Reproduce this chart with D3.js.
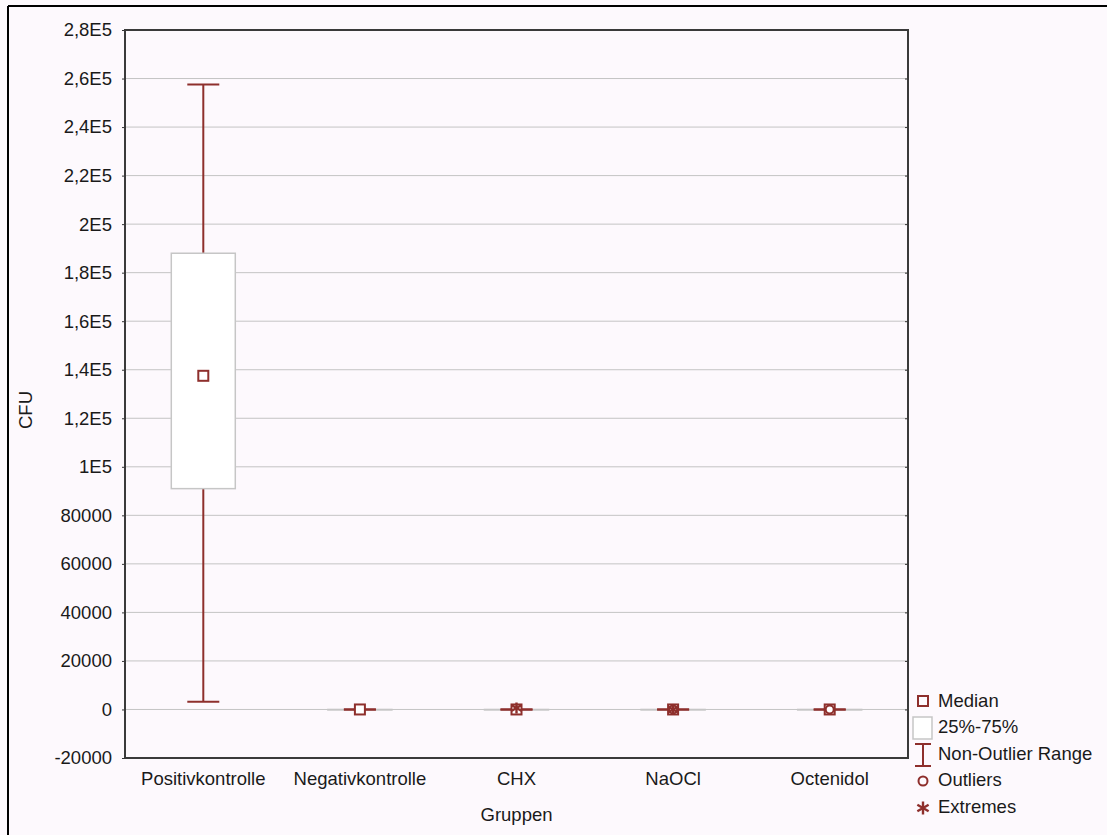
<!DOCTYPE html>
<html lang="de">
<head>
<meta charset="UTF-8">
<title>CFU Boxplot</title>
<style>
  body { margin: 0; background: #fdf9fd; }
  text { font-family: "Liberation Sans", Arial, sans-serif; fill: #1a1a1a; }
</style>
</head>
<body>
<svg id="svg" width="1107" height="835"></svg>
<script src="https://d3js.org/d3.v7.min.js"></script>
<script>
// data
const categories = ["Positivkontrolle", "Negativkontrolle", "CHX", "NaOCl", "Octenidol"]
const medians = [137500, 0, 0, 0, 0]
const q1 = [91000, 0, 0, 0, 0]
const q3 = [188000, 0, 0, 0, 0]
const whiskLow = [3200, 0, 0, 0, 0]
const whiskHigh = [257500, 0, 0, 0, 0]
const outliers = [[], [], [], [0], [0]]
const extremes = [[], [], [600], [0], []]
const yTicks = [-20000, 0, 20000, 40000, 60000, 80000, 100000, 120000, 140000, 160000, 180000, 200000, 220000, 240000, 260000, 280000]
const yTickLabels = ["-20000", "0", "20000", "40000", "60000", "80000", "1E5", "1,2E5", "1,4E5", "1,6E5", "1,8E5", "2E5", "2,2E5", "2,4E5", "2,6E5", "2,8E5"]
const legendItems = ["Median", "25%-75%", "Non-Outlier Range", "Outliers", "Extremes"]

const red = "#8e2f2c"
const fs = 18.5
const svg = d3.select("svg#svg")
const margin = { top: 30, left: 125, right: 199, bottom: 77 }
const width = +svg.attr("width")
const height = +svg.attr("height")
const innerWidth = width - margin.left - margin.right
const innerHeight = height - margin.top - margin.bottom

// outer frame (only top and left edge are inside the picture)
svg.append("line").attr("x1", 8).attr("x2", width).attr("y1", 6).attr("y2", 6)
  .attr("stroke", "#000").attr("stroke-width", 2)
svg.append("line").attr("x1", 8).attr("x2", 8).attr("y1", 6).attr("y2", height)
  .attr("stroke", "#000").attr("stroke-width", 2)

const xScale = d3.scaleBand().domain(categories).range([0, innerWidth])
const yScale = d3.scaleLinear().domain([-20000, 280000]).range([innerHeight, 0])

const g = svg.append("g").attr("transform", `translate(${margin.left},${margin.top})`)

// grid
g.append("g").selectAll("line").data(yTicks.slice(1, -1)).join("line")
  .attr("x1", 0).attr("x2", innerWidth)
  .attr("y1", d => yScale(d)).attr("y2", d => yScale(d))
  .attr("stroke", "#c4c4c4").attr("stroke-width", 1)

// axes
const yAxis = d3.axisLeft(yScale).tickValues(yTicks).tickSize(3).tickPadding(10)
  .tickFormat((d, i) => yTickLabels[i])
const yg = g.append("g").call(yAxis)
yg.select(".domain").remove()
yg.selectAll("text").attr("font-size", fs)
yg.selectAll("line").attr("stroke", "#333")
const yRight = g.append("g").attr("transform", `translate(${innerWidth},0)`)
  .call(d3.axisLeft(yScale).tickValues(yTicks).tickSize(3).tickFormat(""))
yRight.select(".domain").remove()
yRight.selectAll("line").attr("stroke", "#333")

const xAxis = d3.axisBottom(xScale).tickSize(0).tickPadding(14)
const xg = g.append("g").attr("transform", `translate(0,${innerHeight})`).call(xAxis)
xg.select(".domain").remove()
xg.selectAll("text").attr("font-size", fs)
svg.selectAll("g").attr("font-family", null)

// boxes
const bw = 64, cw = 32, ms = 10
const cx = i => xScale(categories[i]) + xScale.bandwidth() / 2
const boxes = g.append("g").selectAll("g").data(categories).join("g")
boxes.append("line")
  .attr("x1", (d, i) => cx(i)).attr("x2", (d, i) => cx(i))
  .attr("y1", (d, i) => yScale(whiskHigh[i])).attr("y2", (d, i) => yScale(whiskLow[i]))
  .attr("stroke", red).attr("stroke-width", 2)
boxes.append("rect")
  .attr("x", (d, i) => cx(i) - bw / 2).attr("width", bw)
  .attr("y", (d, i) => yScale(q3[i])).attr("height", (d, i) => Math.max(0.5, yScale(q1[i]) - yScale(q3[i])))
  .attr("fill", "#fff").attr("stroke", "#c6c6c6").attr("stroke-width", 1.5)
boxes.each(function (d, i) {
  const s = d3.select(this)
  ;[whiskHigh[i], whiskLow[i]].forEach(v => {
    s.append("line").attr("x1", cx(i) - cw / 2).attr("x2", cx(i) + cw / 2)
      .attr("y1", yScale(v)).attr("y2", yScale(v)).attr("stroke", red).attr("stroke-width", 2)
  })
  s.append("rect").attr("x", cx(i) - ms / 2).attr("y", yScale(medians[i]) - ms / 2)
    .attr("width", ms).attr("height", ms).attr("fill", "#fff").attr("stroke", red).attr("stroke-width", 2)
  outliers[i].forEach(v => {
    s.append("circle").attr("cx", cx(i)).attr("cy", yScale(v)).attr("r", 4)
      .attr("fill", "none").attr("stroke", red).attr("stroke-width", 2)
  })
  extremes[i].forEach(v => drawStar(s, cx(i), yScale(v), 5.5))
})

function drawStar(sel, x, y, r) {
  [90, 30, -30].forEach(a => {
    const t = a * Math.PI / 180
    sel.append("line").attr("x1", x - r * Math.cos(t)).attr("x2", x + r * Math.cos(t))
      .attr("y1", y - r * Math.sin(t)).attr("y2", y + r * Math.sin(t))
      .attr("stroke", red).attr("stroke-width", 2.4)
  })
}

// plot frame
g.append("rect").attr("width", innerWidth).attr("height", innerHeight)
  .attr("fill", "none").attr("stroke", "#3a3a3a").attr("stroke-width", 2)

// axis titles
svg.append("text").attr("x", margin.left + innerWidth / 2).attr("y", 821)
  .attr("text-anchor", "middle").attr("font-size", fs).text("Gruppen")
svg.append("text").attr("transform", "translate(32,410) rotate(-90)")
  .attr("text-anchor", "middle").attr("font-size", fs).text("CFU")

// legend
const lg = svg.append("g").attr("transform", "translate(923,0)")
const ly = [701, 727, 754, 780, 807]
lg.append("rect").attr("x", -5).attr("y", ly[0] - 5).attr("width", 10).attr("height", 10)
  .attr("fill", "none").attr("stroke", red).attr("stroke-width", 2)
lg.append("rect").attr("x", -10).attr("y", ly[1] - 10).attr("width", 19).attr("height", 22)
  .attr("fill", "#fff").attr("stroke", "#c6c6c6").attr("stroke-width", 1.5)
lg.append("line").attr("x1", 0).attr("x2", 0).attr("y1", ly[2] - 10).attr("y2", ly[2] + 12)
  .attr("stroke", red).attr("stroke-width", 2)
;[ly[2] - 10, ly[2] + 12].forEach(y => lg.append("line").attr("x1", -8).attr("x2", 8)
  .attr("y1", y).attr("y2", y).attr("stroke", red).attr("stroke-width", 2))
lg.append("circle").attr("cx", 0).attr("cy", ly[3] + 1).attr("r", 4.5)
  .attr("fill", "none").attr("stroke", red).attr("stroke-width", 2)
drawStar(lg, 0, ly[4] + 1, 6.5)
lg.selectAll("text.leg").data(legendItems).join("text").attr("class", "leg")
  .attr("x", 15).attr("y", (d, i) => ly[i]).attr("dy", "0.35em")
  .attr("font-size", fs).text(d => d)
</script>
</body>
</html>
